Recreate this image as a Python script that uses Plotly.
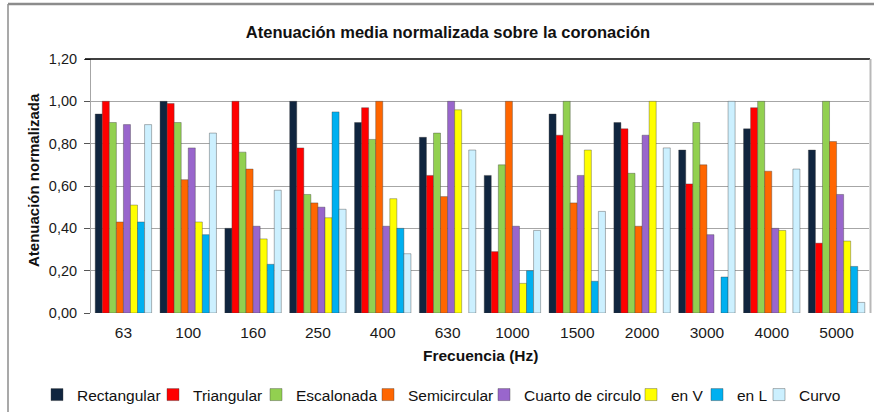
import plotly.graph_objects as go

categories = ["63", "100", "160", "250", "400", "630", "1000", "1500", "2000", "3000", "4000", "5000"]

rectangular = [0.94, 1.00, 0.40, 1.00, 0.90, 0.83, 0.65, 0.94, 0.90, 0.77, 0.87, 0.77]
triangular = [1.00, 0.99, 1.00, 0.78, 0.97, 0.65, 0.29, 0.84, 0.87, 0.61, 0.97, 0.33]
escalonada = [0.90, 0.90, 0.76, 0.56, 0.82, 0.85, 0.70, 1.00, 0.66, 0.90, 1.00, 1.00]
semicircular = [0.43, 0.63, 0.68, 0.52, 1.00, 0.55, 1.00, 0.52, 0.41, 0.70, 0.67, 0.81]
cuarto = [0.89, 0.78, 0.41, 0.50, 0.41, 1.00, 0.41, 0.65, 0.84, 0.37, 0.40, 0.56]
en_v = [0.51, 0.43, 0.35, 0.45, 0.54, 0.96, 0.14, 0.77, 1.00, None, 0.39, 0.34]
en_l = [0.43, 0.37, 0.23, 0.95, 0.40, None, 0.20, 0.15, None, 0.17, None, 0.22]
curvo = [0.89, 0.85, 0.58, 0.49, 0.28, 0.77, 0.39, 0.48, 0.78, 1.00, 0.68, 0.05]

series_names = ["Rectangular", "Triangular", "Escalonada", "Semicircular",
                "Cuarto de circulo", "en V", "en L", "Curvo"]
series_values = [rectangular, triangular, escalonada, semicircular, cuarto, en_v, en_l, curvo]
series_colors = ["#10253F", "#FF0000", "#92D050", "#FF6600", "#9966CC", "#FFFF00", "#00B0F0", "#CCF0FF"]

W, H = 874, 412
L, R, T, B = 91, 869, 59, 313  # plot area in pixels

# legend text start positions (pixels) — layout only
legend_text_x = [77, 193, 296, 408, 524, 671, 737, 799]
LEGEND_Y = 395


def px_x(x):
    return (x - L) / (R - L)


def px_y(y):
    return (B - y) / (B - T)


FONT = "Liberation Sans, Arial, sans-serif"

fig = go.Figure()
legend_layouts = {}
for i, (name, vals, col) in enumerate(zip(series_names, series_values, series_colors)):
    lg = "legend" if i == 0 else f"legend{i + 1}"
    fig.add_trace(go.Bar(
        name=name, x=categories, y=vals, legend=lg,
        marker=dict(color=col, line=dict(color="rgba(60,60,60,0.55)", width=0.7)),
    ))
    legend_layouts[lg] = dict(
        orientation="h", xref="container", yref="container",
        x=(legend_text_x[i] - 40) / W, xanchor="left",
        y=1 - LEGEND_Y / H, yanchor="middle",
        font=dict(size=15.5, color="#111"), itemwidth=30,
        bgcolor="rgba(0,0,0,0)", borderwidth=0,
    )

fig.update_layout(
    width=W, height=H,
    margin=dict(l=L, r=W - R, t=T, b=H - B),
    paper_bgcolor="white", plot_bgcolor="white",
    barmode="group", bargap=0.13, bargroupgap=0,
    separators=",.",
    font=dict(family=FONT, size=14, color="#1a1a1a"),
    title=dict(text="<b>Atenuación media normalizada sobre la coronación</b>",
               font=dict(size=16.5, color="#111"),
               x=448 / W, xref="container", xanchor="center",
               y=1 - 32 / H, yref="container", yanchor="middle"),
    showlegend=True,
    xaxis=dict(type="category", showgrid=False, showline=False, zeroline=False,
               ticks="", tickfont=dict(size=15.5), ticklabelstandoff=8),
    yaxis=dict(range=[0, 1.2], dtick=0.2, tickformat=".2f",
               showgrid=True, gridcolor="#A6A6A6", gridwidth=1,
               zeroline=False, showline=True, linecolor="#A6A6A6", linewidth=1,
               ticks="outside", ticklen=6, tickcolor="#555",
               tickfont=dict(size=14.5), ticklabelstandoff=4),
    annotations=[
        dict(text="<b>Frecuencia (Hz)</b>", xref="paper", yref="paper",
             x=px_x(481), y=px_y(355), xanchor="center", yanchor="middle",
             showarrow=False, font=dict(size=15.5, color="#111")),
        dict(text="<b>Atenuación normalizada</b>", xref="paper", yref="paper",
             x=px_x(33), y=px_y(180), xanchor="center", yanchor="middle",
             textangle=-90, showarrow=False, font=dict(size=15, color="#111")),
    ],
    shapes=[
        dict(type="line", xref="paper", yref="paper", x0=px_x(85), x1=px_x(870),
             y0=1, y1=1, line=dict(color="black", width=1.5)),
        dict(type="line", xref="paper", yref="paper", x0=px_x(870.5), x1=px_x(870.5),
             y0=px_y(59), y1=0, line=dict(color="#B8B8B8", width=2)),
        dict(type="line", xref="paper", yref="paper", x0=px_x(8), x1=px_x(874),
             y0=px_y(4), y1=px_y(4), line=dict(color="#8C8C8C", width=2.5)),
        dict(type="line", xref="paper", yref="paper", x0=px_x(8), x1=px_x(8),
             y0=px_y(4), y1=px_y(412), line=dict(color="#8C8C8C", width=1.5)),
    ],
    **legend_layouts,
)

fig.write_html(
    "out.html",
    config={"displayModeBar": False},
    post_script="document.body.style.margin='0';document.body.style.padding='0';",
)
